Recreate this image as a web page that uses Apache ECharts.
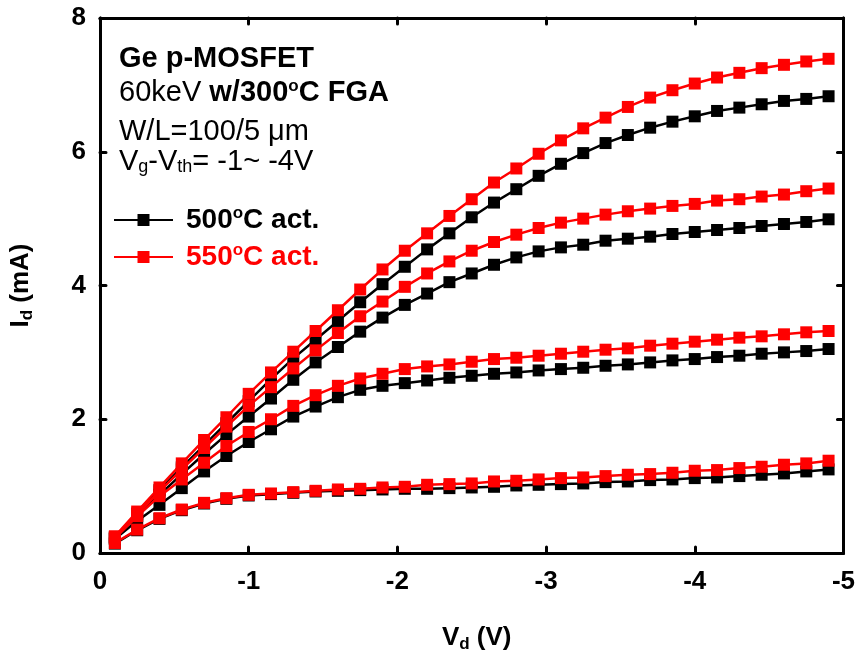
<!DOCTYPE html>
<html><head><meta charset="utf-8">
<script src="https://cdn.jsdelivr.net/npm/echarts@6/dist/echarts.min.js"></script>
<style>html,body{margin:0;padding:0;background:#fff}#c{width:858px;height:658px}</style>
</head><body><div id="c"></div>
<script>
// Drain voltage points (V)
const vd = [-0.1,-0.25,-0.4,-0.55,-0.7,-0.85,-1.0,-1.15,-1.3,-1.45,-1.6,-1.75,-1.9,-2.05,-2.2,-2.35,-2.5,-2.65,-2.8,-2.95,-3.1,-3.25,-3.4,-3.55,-3.7,-3.85,-4.0,-4.15,-4.3,-4.45,-4.6,-4.75,-4.9];
// Drain current (mA), 500C activation, Vg-Vth = -4, -3, -2, -1 V
const b500_4 = [0.24,0.59,0.94,1.28,1.61,1.94,2.27,2.60,2.91,3.19,3.47,3.75,4.02,4.28,4.54,4.78,5.02,5.24,5.44,5.64,5.82,5.98,6.13,6.25,6.36,6.45,6.53,6.61,6.66,6.71,6.76,6.79,6.83];
const b500_3 = [0.22,0.55,0.87,1.18,1.48,1.77,2.04,2.31,2.59,2.85,3.08,3.31,3.52,3.71,3.88,4.05,4.18,4.31,4.42,4.51,4.57,4.61,4.67,4.70,4.73,4.77,4.80,4.83,4.86,4.89,4.92,4.95,4.99];
const b500_2 = [0.21,0.48,0.72,0.97,1.22,1.45,1.66,1.85,2.04,2.19,2.33,2.44,2.50,2.54,2.58,2.62,2.65,2.68,2.70,2.73,2.75,2.77,2.80,2.82,2.85,2.88,2.90,2.93,2.95,2.98,3.00,3.02,3.05];
const b500_1 = [0.14,0.34,0.51,0.64,0.74,0.81,0.86,0.88,0.90,0.92,0.93,0.94,0.95,0.96,0.96,0.97,0.98,0.99,1.01,1.02,1.03,1.04,1.06,1.07,1.09,1.10,1.12,1.13,1.15,1.17,1.19,1.22,1.25];
// Drain current (mA), 550C activation
const r550_4 = [0.25,0.62,0.98,1.34,1.69,2.03,2.38,2.70,3.01,3.32,3.63,3.94,4.24,4.52,4.78,5.04,5.29,5.54,5.75,5.97,6.17,6.35,6.51,6.67,6.81,6.92,7.02,7.11,7.18,7.25,7.30,7.35,7.39];
const r550_3 = [0.23,0.58,0.92,1.25,1.57,1.89,2.20,2.48,2.76,3.03,3.29,3.54,3.76,3.98,4.18,4.36,4.52,4.65,4.76,4.86,4.94,5.00,5.06,5.11,5.15,5.19,5.22,5.27,5.29,5.33,5.36,5.41,5.45];
const r550_2 = [0.22,0.55,0.85,1.10,1.35,1.60,1.81,2.00,2.20,2.36,2.50,2.61,2.68,2.75,2.79,2.82,2.86,2.90,2.92,2.95,2.98,3.01,3.04,3.06,3.10,3.13,3.16,3.19,3.22,3.24,3.27,3.30,3.32];
const r550_1 = [0.15,0.35,0.52,0.65,0.75,0.82,0.87,0.89,0.91,0.93,0.95,0.96,0.98,0.99,1.02,1.03,1.04,1.07,1.08,1.10,1.12,1.13,1.15,1.17,1.18,1.20,1.23,1.24,1.27,1.29,1.32,1.34,1.38];

const name500 = '500°C act.';
const name550 = '550°C act.';
const FONT = "'Liberation Sans', Arial, sans-serif";

function pairs(ys){ return vd.map((x,i)=>[x, ys[i]]); }
function mk(name, ys, color){
  return {type:'line', name:name, data:pairs(ys), xAxisIndex:0, yAxisIndex:0,
    symbol:'rect', symbolSize:12, showSymbol:true,
    lineStyle:{color:color, width:2.5}, itemStyle:{color:color}, z:color==='#000000'?2:3};
}

const axisLine = {show:true, onZero:false, lineStyle:{color:'#000', width:3}};
const axisTick = {show:true, inside:true, length:6, lineStyle:{color:'#000', width:3, cap:'round'}};
const lbl = {color:'#000', fontWeight:'bold', fontSize:26, fontFamily:FONT};

const chart = echarts.init(document.getElementById('c'), null, {renderer:'canvas'});
chart.setOption({
  animation:false,
  backgroundColor:'#fff',
  grid:{left:100, right:11, top:18, bottom:105, show:false},
  xAxis:[
    {type:'value', min:-5, max:0, interval:1, inverse:true, position:'bottom',
     axisLine:axisLine, axisTick:axisTick, splitLine:{show:false},
     axisLabel:Object.assign({margin:16, formatter:v=>String(v)}, lbl),
     name:'{v|V}{s|d}{v| (V)}', nameLocation:'middle', nameGap:70,
     nameTextStyle:{padding:[0,0,0,10], rich:{
       v:{fontSize:26, fontWeight:'bold', fontFamily:FONT, color:'#000', lineHeight:30, verticalAlign:'middle'},
       s:{fontSize:17, fontWeight:'bold', fontFamily:FONT, color:'#000', lineHeight:10, verticalAlign:'bottom'}}}},
    {type:'value', min:-5, max:0, interval:1, inverse:true, position:'top',
     axisLine:axisLine, axisTick:axisTick, splitLine:{show:false}, axisLabel:{show:false}}
  ],
  yAxis:[
    {type:'value', min:0, max:8, interval:2, position:'left',
     axisLine:axisLine, axisTick:axisTick, splitLine:{show:false},
     axisLabel:Object.assign({margin:14}, lbl),
     name:'{v|I}{s|d}{v| (mA)}', nameLocation:'middle', nameGap:64, nameRotate:90,
     nameTextStyle:{rich:{
       v:{fontSize:26, fontWeight:'bold', fontFamily:FONT, color:'#000', lineHeight:30, verticalAlign:'middle'},
       s:{fontSize:17, fontWeight:'bold', fontFamily:FONT, color:'#000', lineHeight:10, verticalAlign:'bottom'}}}},
    {type:'value', min:0, max:8, interval:2, position:'right',
     axisLine:axisLine, axisTick:axisTick, splitLine:{show:false}, axisLabel:{show:false}}
  ],
  legend:{
    orient:'vertical', left:113, top:205, padding:0, itemWidth:59, itemHeight:15, itemGap:8,
    data:[name500, name550],
    formatter:n=> n===name500 ? '{k|500}{ks|o}{k|C act.}' : '{r|550}{rs|o}{r|C act.}',
    textStyle:{padding:[0,0,0,8], rich:{
      k:{fontSize:28, fontWeight:'bold', fontFamily:FONT, color:'#000', lineHeight:30, verticalAlign:'middle'},
      ks:{fontSize:17, fontWeight:'bold', fontFamily:FONT, color:'#000', lineHeight:10, verticalAlign:'top'},
      r:{fontSize:28, fontWeight:'bold', fontFamily:FONT, color:'#ff0000', lineHeight:30, verticalAlign:'middle'},
      rs:{fontSize:17, fontWeight:'bold', fontFamily:FONT, color:'#ff0000', lineHeight:10, verticalAlign:'top'}}}
  },
  graphic:[
    {type:'text', left:119, top:44, style:{text:'{b|Ge p-MOSFET}', rich:{
      b:{fontSize:29, fontWeight:'bold', fontFamily:FONT, fill:'#000', lineHeight:30}}}},
    {type:'text', left:119, top:78, style:{text:'{n|60keV }{b|w/300}{bs|o}{b|C FGA}', rich:{
      n:{fontSize:29, fontFamily:FONT, fill:'#000', lineHeight:30, verticalAlign:'middle'},
      b:{fontSize:29, fontWeight:'bold', fontFamily:FONT, fill:'#000', lineHeight:30, verticalAlign:'middle'},
      bs:{fontSize:17, fontWeight:'bold', fontFamily:FONT, fill:'#000', lineHeight:10, verticalAlign:'top'}}}},
    {type:'text', left:119, top:117, style:{text:'{n|W/L=100/5 μm}', rich:{
      n:{fontSize:29, fontFamily:FONT, fill:'#000', lineHeight:30}}}},
    {type:'text', left:119, top:147, style:{text:'{n|V}{s|g}{n|-V}{s|th}{n|= -1~ -4V}', rich:{
      n:{fontSize:29, fontFamily:FONT, fill:'#000', lineHeight:30, verticalAlign:'middle'},
      s:{fontSize:18, fontFamily:FONT, fill:'#000', lineHeight:10, verticalAlign:'bottom'}}}}
  ],
  series:[
    mk(name500, b500_4, '#000000'), mk(name500, b500_3, '#000000'),
    mk(name500, b500_2, '#000000'), mk(name500, b500_1, '#000000'),
    mk(name550, r550_4, '#ff0000'), mk(name550, r550_3, '#ff0000'),
    mk(name550, r550_2, '#ff0000'), mk(name550, r550_1, '#ff0000')
  ]
});
</script></body></html>
